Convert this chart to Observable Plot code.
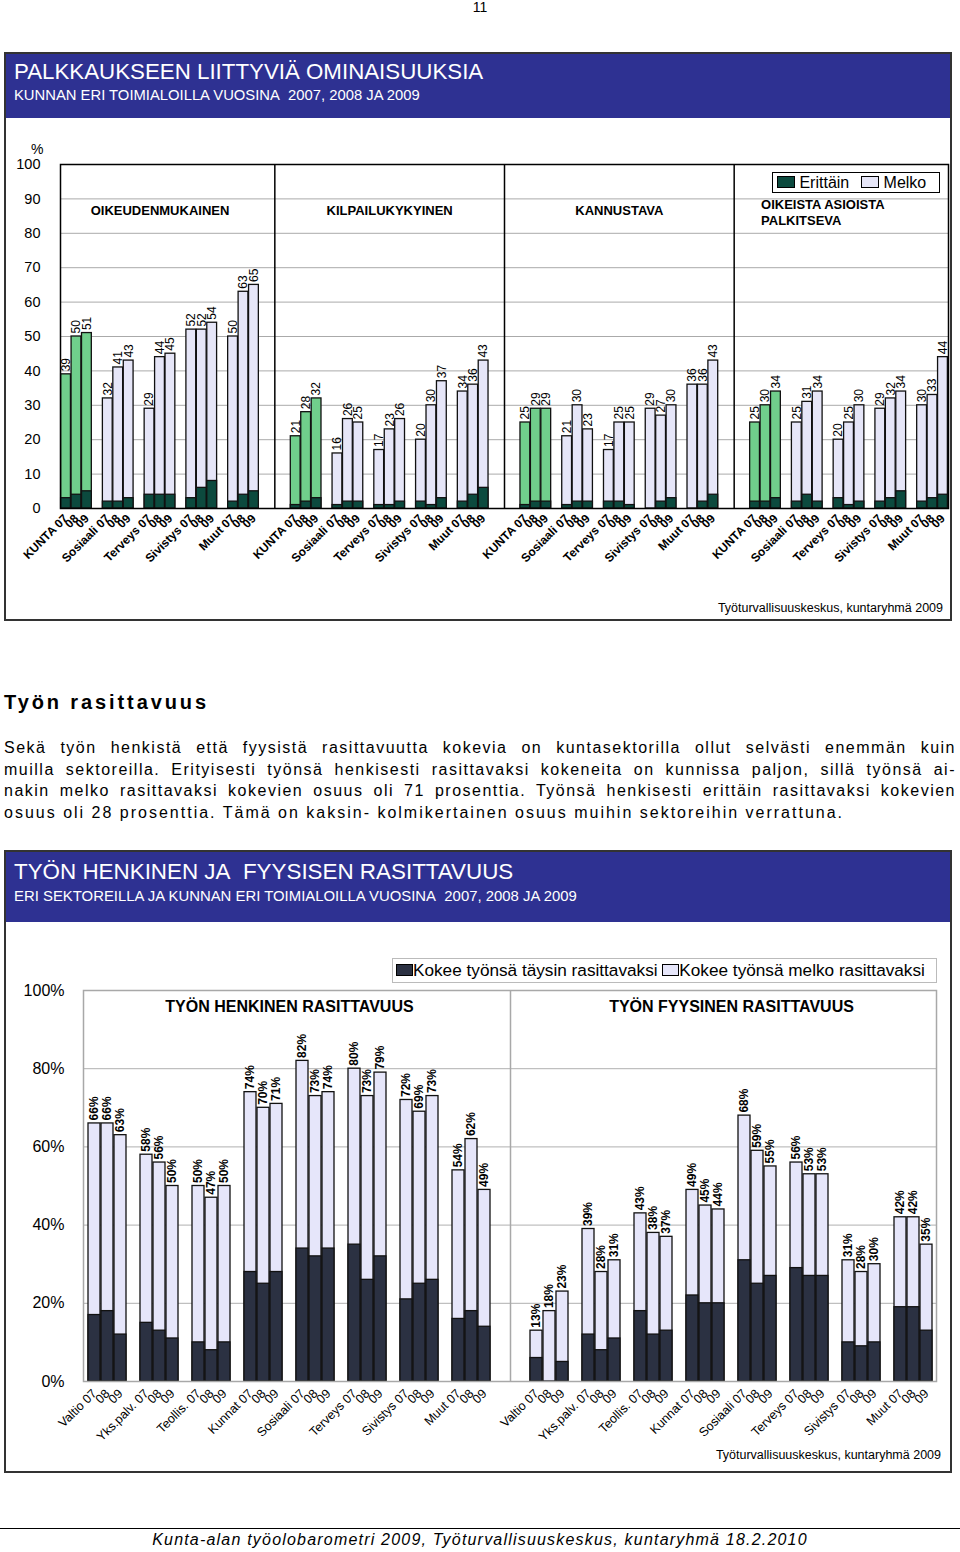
<!DOCTYPE html>
<html><head><meta charset="utf-8">
<script src="https://cdn.jsdelivr.net/npm/d3@7"></script>
<script src="https://cdn.jsdelivr.net/npm/@observablehq/plot@0.6"></script>
<style>
body{margin:0;width:960px;height:1552px;position:relative;background:#fff;font-family:"Liberation Sans",Arial,sans-serif;overflow:hidden;color:#000}
.abs{position:absolute;white-space:nowrap}
.hdr{position:absolute;left:4px;width:948px;background:#2e3192;color:#fff}
.panel{position:absolute;left:4px;width:948px;border:2px solid #333;box-sizing:border-box;pointer-events:none;z-index:5}
.line{position:absolute;left:4px;width:952px;font-size:16px;letter-spacing:1.5px;height:22px;line-height:22px;text-align:justify;text-align-last:justify;white-space:nowrap}
.sw{display:inline-block;border:1px solid #000;vertical-align:middle}
</style></head><body>
<div class="abs" style="left:0;width:960px;text-align:center;top:0px;font-size:14px;line-height:14px">11</div>

<div class="hdr" style="top:52px;height:66px"></div>
<div class="abs" style="left:14px;top:59px;font-size:22.3px;color:#fff;z-index:3">PALKKAUKSEEN LIITTYVIÄ OMINAISUUKSIA</div>
<div class="abs" style="left:14px;top:87px;font-size:14.8px;color:#fff;z-index:3">KUNNAN ERI TOIMIALOILLA VUOSINA&nbsp; 2007, 2008 JA 2009</div>
<div class="panel" style="top:52px;height:569px"></div>
<div class="abs" style="left:31px;top:141px;font-size:14px">%</div>
<div id="top" class="abs" style="left:0;top:118px"></div>
<div class="abs" style="left:772px;top:172px;width:168px;height:21px;border:1.5px solid #000;box-sizing:border-box;background:#fff;font-size:16px;line-height:19px;z-index:4">
 <span class="sw" style="width:16px;height:10px;background:#0c4a3e;margin-left:4px;margin-top:-3px"></span> Erittäin&nbsp;
 <span class="sw" style="width:16px;height:10px;background:#e6e6f8;margin-left:3px;margin-top:-3px"></span> Melko
</div>
<div class="abs" style="right:17px;top:601px;font-size:12.5px">Työturvallisuuskeskus, kuntaryhmä 2009</div>

<div class="abs" style="left:4px;top:691px;font-size:20px;font-weight:bold;letter-spacing:2.9px">Työn rasittavuus</div>
<div class="line" style="top:737px">Sekä työn henkistä että fyysistä rasittavuutta kokevia on kuntasektorilla ollut selvästi enemmän kuin</div>
<div class="line" style="top:759px">muilla sektoreilla. Erityisesti työnsä henkisesti rasittavaksi kokeneita on kunnissa paljon, sillä työnsä ai-</div>
<div class="line" style="top:780px">nakin melko rasittavaksi kokevien osuus oli 71 prosenttia. Työnsä henkisesti erittäin rasittavaksi kokevien</div>
<div class="line" style="top:802px;text-align:left;text-align-last:left;letter-spacing:2px">osuus oli 28 prosenttia. Tämä on kaksin- kolmikertainen osuus muihin sektoreihin verrattuna.</div>

<div class="hdr" style="top:850px;height:72px"></div>
<div class="abs" style="left:14px;top:859px;font-size:22.4px;color:#fff;z-index:3">TYÖN HENKINEN JA&nbsp; FYYSISEN RASITTAVUUS</div>
<div class="abs" style="left:14px;top:888px;font-size:14.9px;color:#fff;z-index:3">ERI SEKTOREILLA JA KUNNAN ERI TOIMIALOILLA VUOSINA&nbsp; 2007, 2008 JA 2009</div>
<div class="panel" style="top:850px;height:623px"></div>
<div id="bottom" class="abs" style="left:0;top:922px"></div>
<div class="abs" style="left:392px;top:958px;width:545px;height:25px;border:1px solid #bbb;box-sizing:border-box;background:#fff;font-size:17.2px;line-height:23px;z-index:4">
 <span class="sw" style="width:15px;height:10px;background:#2b3142;margin-left:3px;margin-top:-3px"></span>Kokee työnsä täysin rasittavaksi
 <span class="sw" style="width:15px;height:10px;background:#e6e6fa;margin-left:0px;margin-top:-3px"></span>Kokee työnsä melko rasittavaksi
</div>
<div class="abs" style="right:19px;top:1448px;font-size:12.5px">Työturvallisuuskeskus, kuntaryhmä 2009</div>

<div class="abs" style="left:0;top:1528px;width:960px;height:1px;background:#000"></div>
<div class="abs" style="left:0;width:960px;text-align:center;top:1531px;font-size:16px;font-style:italic;letter-spacing:1.2px">Kunta-alan työolobarometri 2009, Työturvallisuuskeskus, kuntaryhmä 18.2.2010</div>

<script>
// ---------- Top chart data ----------
const topGroups = ["OIKEUDENMUKAINEN", "KILPAILUKYKYINEN", "KANNUSTAVA", "OIKEISTA ASIOISTA PALKITSEVA"];
const topSectors = ["KUNTA", "Sosiaali", "Terveys", "Sivistys", "Muut"];
const years = ["07", "08", "09"];
const totalOikeudenmukainen = [39,50,51, 32,41,43, 29,44,45, 52,52,54, 50,63,65];
const erittainOikeudenmukainen = [3,4,5, 2,2,3, 4,4,4, 3,6,8, 2,4,5];
const totalKilpailukykyinen = [21,28,32, 16,26,25, 17,23,26, 20,30,37, 34,36,43];
const erittainKilpailukykyinen = [1,2,3, 1,2,2, 1,1,2, 2,1,3, 2,4,6];
const totalKannustava = [25,29,29, 21,30,23, 17,25,25, 29,27,30, 36,36,43];
const erittainKannustava = [1,2,2, 1,2,2, 2,2,1, 0,2,3, 0,2,4];
const totalPalkitseva = [25,30,34, 25,31,34, 20,25,30, 29,32,34, 30,33,44];
const erittainPalkitseva = [2,2,3, 2,4,2, 3,1,2, 2,3,5, 2,3,4];
const topTicks = [0,10,20,30,40,50,60,70,80,90,100];

// ---------- Bottom chart data ----------
const bottomPanels = ["TYÖN HENKINEN RASITTAVUUS", "TYÖN FYYSINEN RASITTAVUUS"];
const bottomSectors = ["Valtio", "Yks.palv.", "Teollis.", "Kunnat", "Sosiaali", "Terveys", "Sivistys", "Muut"];
const henkinenYhteensa = [66,66,63, 58,56,50, 50,47,50, 74,70,71, 82,73,74, 80,73,79, 72,69,73, 54,62,49];
const henkinenTaysin = [17,18,12, 15,13,11, 10,8,10, 28,25,28, 34,32,34, 35,26,32, 21,25,26, 16,18,14];
const fyysinenYhteensa = [13,18,23, 39,28,31, 43,38,37, 49,45,44, 68,59,55, 56,53,53, 31,28,30, 42,42,35];
const fyysinenTaysin = [6,0,5, 12,8,11, 18,12,13, 22,20,20, 31,25,27, 29,27,27, 10,9,10, 19,19,13];
const bottomTicks = [0,20,40,60,80,100];

// band domain: bars of each group, a blank slot between sectors, and a blank/divider/blank trio between groups
function buildDomain(nGroups, sectors) {
  const keys = [];
  for (let gi = 0; gi < nGroups; gi++) {
    if (gi > 0) keys.push(`_a${gi}`, `_D${gi}`, `_b${gi}`);
    sectors.forEach((s, si) => {
      if (si > 0) keys.push(`_g${gi}_${si}`);
      years.forEach(y => keys.push(`${gi}|${s} ${y}`));
    });
  }
  return keys;
}
function buildRows(groupNames, sectors, totals, darks) {
  const rows = [];
  groupNames.forEach((g, gi) => sectors.forEach((s, si) => years.forEach((y, yi) => {
    const i = si * 3 + yi;
    rows.push({group: g, key: `${gi}|${s} ${y}`, sector: s, total: totals[gi][i], dark: darks[gi][i]});
  })));
  return rows;
}
const tickFmt = k => {
  if (k.startsWith("_")) return "";
  const label = k.split("|")[1];
  return label.endsWith(" 07") ? label : label.slice(-2);
};
const fontFamily = "'Liberation Sans', Arial, sans-serif";

// ---------- Top chart ----------
const topRows = buildRows(topGroups, topSectors,
  [totalOikeudenmukainen, totalKilpailukykyinen, totalKannustava, totalPalkitseva],
  [erittainOikeudenmukainen, erittainKilpailukykyinen, erittainKannustava, erittainPalkitseva]);
const topDividers = [1, 2, 3].map(i => `_D${i}`);

const topChart = Plot.plot({
  width: 960, height: 502,
  marginLeft: 60, marginRight: 12, marginTop: 46, marginBottom: 112,
  style: {fontFamily, fontSize: "12px", background: "transparent", color: "#000"},
  x: {domain: buildDomain(topGroups.length, topSectors), padding: 0.06},
  y: {domain: [0, 100]},
  color: {type: "identity"},
  marks: [
    Plot.ruleY(topTicks.slice(1, -1), {stroke: "#aaa", strokeWidth: 1}),
    Plot.ruleX(topDividers, {stroke: "#000", strokeWidth: 1.5}),
    Plot.barY(topRows, {x: "key", y: "total", fill: d => d.sector === "KUNTA" ? "#70cf8c" : "#e6e6f8", stroke: "#111", strokeWidth: 1.3}),
    Plot.barY(topRows, {x: "key", y: "dark", fill: "#0c4a3e", stroke: "#111", strokeWidth: 1.3}),
    Plot.text(topRows, {x: "key", y: "total", text: d => String(d.total), rotate: -90, textAnchor: "start", dy: -3, fontSize: 12}),
    Plot.frame({stroke: "#000", strokeWidth: 1.5}),
    Plot.text(topGroups.slice(0, 3), {x: (d, i) => `${i}|${topSectors[2]} 08`, text: d => d, frameAnchor: "top", dy: 41, fontWeight: "bold", fontSize: 13}),
    Plot.text(topGroups.slice(3), {x: () => `3|${topSectors[0]} 07`, text: () => "OIKEISTA ASIOISTA\nPALKITSEVA", frameAnchor: "top", textAnchor: "start", lineAnchor: "top", lineHeight: 1.18, dx: 6, dy: 34, fontWeight: "bold", fontSize: 13}),
    Plot.axisY(topTicks, {tickSize: 0, tickPadding: 20, fontSize: 14.5, label: null}),
    Plot.axisX({tickSize: 0, tickPadding: 8, tickRotate: -45, tickFormat: tickFmt, fontWeight: "bold", fontSize: 12, label: null})
  ]
});
document.getElementById("top").append(topChart);

// ---------- Bottom chart ----------
const bottomRows = buildRows(bottomPanels, bottomSectors,
  [henkinenYhteensa, fyysinenYhteensa], [henkinenTaysin, fyysinenTaysin]);

const bottomChart = Plot.plot({
  width: 960, height: 550,
  marginLeft: 83, marginRight: 24, marginTop: 68, marginBottom: 91,
  style: {fontFamily, fontSize: "12px", background: "transparent", color: "#000"},
  x: {domain: buildDomain(bottomPanels.length, bottomSectors), padding: 0.1},
  y: {domain: [0, 100]},
  marks: [
    Plot.ruleY(bottomTicks.slice(1, -1), {stroke: "#b0b0b0", strokeWidth: 1}),
    Plot.ruleX(["_D1"], {stroke: "#a8a8a8", strokeWidth: 1.5}),
    Plot.barY(bottomRows, {x: "key", y: "total", fill: "#e6e6fa", stroke: "#111", strokeWidth: 1.3}),
    Plot.barY(bottomRows, {x: "key", y: "dark", fill: "#2b3142", stroke: "#111", strokeWidth: 1.3}),
    Plot.text(bottomRows, {x: "key", y: "total", text: d => d.total + "%", rotate: -90, textAnchor: "start", dy: -3, fontSize: 12, fontWeight: "bold"}),
    Plot.frame({stroke: "#a8a8a8", strokeWidth: 1.5}),
    Plot.text(bottomPanels, {x: (d, i) => `_g${i}_4`, text: d => d, frameAnchor: "top", dy: 10, fontWeight: "bold", fontSize: 16}),
    Plot.axisY(bottomTicks, {tickSize: 0, tickPadding: 19, fontSize: 16, tickFormat: d => d + "%", label: null}),
    Plot.axisX({tickSize: 0, tickPadding: 10, tickRotate: -45, tickFormat: tickFmt, fontSize: 12.5, label: null})
  ]
});
document.getElementById("bottom").append(bottomChart);
</script>
</body></html>
